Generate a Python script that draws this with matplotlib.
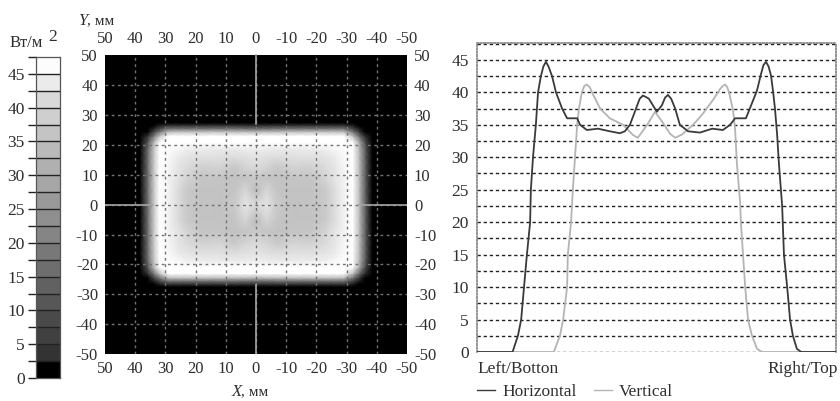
"""Heat flux map with colour scale and horizontal / vertical centre profiles."""
import numpy as np
import matplotlib
matplotlib.use('Agg')
import matplotlib.pyplot as plt
from matplotlib.colors import LinearSegmentedColormap, ListedColormap, BoundaryNorm

plt.rcParams['font.family'] = ['Liberation Serif', 'DejaVu Serif']
plt.rcParams['axes.unicode_minus'] = False

W, H = 840, 401

# Map: one quadrant, the map is mirror symmetric
map_x = [0, 3.5, 7, 12, 18, 23, 26, 29, 32, 34, 36, 38.5, 50]
map_y = [0, 5, 9, 13, 16, 18.5, 21, 23, 24.5, 25.5, 26.5, 27.5, 50]
map_values = [
    [37.0, 39.6, 35.0, 34.0, 34.2, 35.0, 38.0, 42.0, 44.7, 34.0, 15.0, 0, 0],
    [33.0, 36.5, 34.5, 34.0, 34.0, 35.0, 38.0, 42.0, 44.5, 34.0, 15.0, 0, 0],
    [35.0, 34.5, 34.0, 34.5, 34.5, 36.5, 39.5, 42.0, 44.5, 34.0, 15.0, 0, 0],
    [37.5, 36.5, 35.0, 36.5, 36.0, 37.5, 40.0, 42.5, 44.5, 34.0, 15.0, 0, 0],
    [39.5, 38.5, 38.0, 38.5, 38.5, 39.5, 41.0, 43.0, 44.5, 33.5, 14.5, 0, 0],
    [41.2, 41.0, 40.5, 40.5, 41.0, 41.5, 42.5, 43.5, 44.0, 33.0, 14.0, 0, 0],
    [43.5, 44.0, 44.0, 44.0, 44.0, 44.0, 44.0, 44.0, 43.5, 30.0, 10.0, 0, 0],
    [44.5, 44.5, 45.0, 45.0, 45.0, 45.0, 44.5, 44.0, 34.0, 17.0, 3.0, 0, 0],
    [31.0, 32.0, 32.0, 33.0, 33.0, 33.0, 33.0, 32.0, 17.0, 6.0, 0, 0, 0],
    [16.0, 16.0, 17.0, 17.0, 17.0, 17.0, 17.0, 17.0, 8.0, 2.0, 0, 0, 0],
    [4.5, 4.5, 5.0, 5.0, 5.0, 5.0, 5.0, 5.0, 2.0, 0, 0, 0, 0],
    [0, 0, 0, 0, 0, 0, 0, 0, 0, 0, 0, 0, 0],
    [0, 0, 0, 0, 0, 0, 0, 0, 0, 0, 0, 0, 0],
]
map_ticks = [50, 40, 30, 20, 10, 0, -10, -20, -30, -40, -50]

# Colour scale
scale_levels = [2.5 * i for i in range(20)]
scale_labels = [0, 5, 10, 15, 20, 25, 30, 35, 40, 45]
scale_grays = [0.0, 0.2, 0.25, 0.29, 0.34, 0.38, 0.43, 0.47, 0.52, 0.56,
               0.60, 0.65, 0.69, 0.73, 0.77, 0.81, 0.85, 0.92, 0.99]

# Profiles, position runs 0..100 from Left/Bottom to Right/Top
horizontal_pos = [0, 9.9, 11.4, 12.3, 13.1, 13.9, 14.8, 15.0, 15.6, 16.4, 17.0, 17.8, 18.5, 19.2,
                  19.9, 20.9, 22.0, 23.7, 25.1, 27.9, 28.7, 30.6, 33.7, 37.0, 39.8, 41.2, 42.6,
                  44.3, 45.3, 46.2, 47.0, 47.9, 50.1, 51.5, 52.4, 53.2, 54.1, 55.2, 56.5, 58.8,
                  62.1, 65.5, 68.5, 70.5, 71.9, 74.9, 76.0, 78.0, 79.1, 79.8, 80.5, 81.2, 81.9,
                  82.5, 83.0, 83.6, 84.1, 85.0, 85.5, 86.4, 87.2, 88.0, 89.1, 90.3, 100]
horizontal_val = [0, 0, 2.5, 5, 10, 15, 20, 25, 30, 35, 40, 42.5, 44.0, 44.7,
                  44.0, 42.5, 40, 37.5, 36, 36, 35, 34.2, 34.4, 34, 33.7, 34, 35,
                  37.5, 39.0, 39.5, 39.3, 39, 37, 38, 39.2, 39.6, 39.0, 37.5, 35, 34,
                  33.8, 34.4, 34.2, 35, 36, 36, 37.5, 40.3, 42.8, 44.2, 44.7, 44.0, 42.6,
                  40, 37.5, 33.5, 29, 22.5, 15, 10, 5, 2.5, 0.5, 0, 0]
vertical_pos = [0, 21.4, 23.1, 24.0, 25.1, 25.3, 26.2, 26.7, 27.3, 27.9, 28.4, 29.2, 29.9, 30.6,
                31.4, 32.3, 34.3, 37.0, 40.7, 43.5, 44.8, 47.4, 49.6, 51.8, 53.8, 55.2, 57.1,
                60.2, 62.9, 65.7, 67.7, 68.5, 69.1, 69.7, 70.2, 71.3, 71.9, 72.4, 73.3, 73.5, 74.1,
                74.7, 75.5, 76.6, 78.0, 79.4, 100]
vertical_val = [0, 0, 2.5, 5, 10, 15, 20, 25, 30, 35, 37.5, 40, 41.0, 41.2,
                40.8, 39.7, 37.5, 36, 35, 33.4, 33, 35, 37, 35.3, 33.6, 33, 33.5,
                35, 36.7, 38.8, 40.5, 41.0, 41.2, 40.8, 40, 37.3, 34.3, 29, 23, 20, 15,
                10, 5, 2.5, 0.5, 0, 0]
profile_ticks = [0, 5, 10, 15, 20, 25, 30, 35, 40, 45]
profile_grid = [2.5 * i for i in range(20)]

TEXT = '#2e2e2e'


def px_axes(fig, left, top, right, bottom):
    # axes from pixel box of the 840x401 canvas
    return fig.add_axes([left / W, 1 - bottom / H, (right - left) / W, (bottom - top) / H])


fig = plt.figure(figsize=(W / 100, H / 100), dpi=100)

# Colour scale
ax_scale = px_axes(fig, 36, 57, 60, 378)
cmap_scale = ListedColormap([str(g) for g in scale_grays])
norm_scale = BoundaryNorm(scale_levels, cmap_scale.N)
ax_scale.pcolormesh([0, 1], scale_levels, np.array(scale_levels[:-1])[:, None] + 1,
                    cmap=cmap_scale, norm=norm_scale)
ax_scale.set_xticks([])
ax_scale.set_ylim(0, 47.5)
ax_scale.set_yticks(scale_labels)
ax_scale.set_yticks(scale_levels[1::2], minor=True)
ax_scale.tick_params(axis='y', which='both', length=6, width=1.0, color='#222222', pad=2,
                     labelsize=12.5, labelcolor=TEXT)
for level in scale_levels[1:-1]:
    ax_scale.axhline(level, color='#222222', lw=1.0)
for spine in ax_scale.spines.values():
    spine.set_color('#555555')
    spine.set_linewidth(0.9)
fig.text(10 / W, 1 - 43 / H, 'Вт/м', fontsize=12, color=TEXT, va='center')
fig.text(48 / W, 1 - 37 / H, '2', fontsize=12.5, color=TEXT, va='center')

# Map
ax_map = px_axes(fig, 105, 54, 407, 354)
xq = np.array(map_x, dtype=float)
yq = np.array(map_y, dtype=float)
zq = np.array(map_values, dtype=float)
xs = np.concatenate([-xq[:0:-1], xq])
ys = np.concatenate([-yq[:0:-1], yq])
zz = np.concatenate([zq[:0:-1], zq], axis=0)
zz = np.concatenate([zz[:, :0:-1], zz], axis=1)
cmap_map = LinearSegmentedColormap.from_list(
    'flux', [(0, '0.0'), (2.5 / 47.5, '0.18'), (34 / 47.5, '0.76'), (37 / 47.5, '0.85'),
             (41 / 47.5, '0.92'), (44 / 47.5, '1.0'), (1, '1.0')])
ax_map.pcolormesh(xs, ys, zz, cmap=cmap_map, vmin=0, vmax=47.5, shading='gouraud')
ax_map.set_xlim(50, -50)
ax_map.set_ylim(-50, 50.5)
ax_map.set_xticks(map_ticks)
ax_map.set_yticks(map_ticks)
ax_map.tick_params(axis='both', length=0, labelsize=12, labelcolor=TEXT,
                   top=True, labeltop=True, right=True, labelright=True, pad=5)
for tick in map_ticks[1:-1]:
    ax_map.axvline(tick, color='0.45', lw=1.0, ls=(0, (2, 2.5)))
    ax_map.axhline(tick, color='0.45', lw=1.0, ls=(0, (2, 2.5)))
ax_map.plot([0, 0], [27, 50], color='0.65', lw=1.2)
ax_map.plot([0, 0], [-50, -27], color='0.65', lw=1.2)
ax_map.plot([50, 34], [0, 0], color='0.65', lw=1.2)
ax_map.plot([-34, -50], [0, 0], color='0.65', lw=1.2)
for spine in ax_map.spines.values():
    spine.set_visible(False)
fig.text(78 / W, 1 - 21 / H, 'Y', style='italic', fontsize=12, color=TEXT, va='center')
fig.text(87 / W, 1 - 21 / H, ', мм', fontsize=11, color=TEXT, va='center')
fig.text(232 / W, 1 - 392 / H, 'X', style='italic', fontsize=12, color=TEXT, va='center')
fig.text(241 / W, 1 - 392 / H, ', мм', fontsize=11, color=TEXT, va='center')

# Profiles
ax_prof = px_axes(fig, 477, 43, 836, 352)
for level in profile_grid:
    ax_prof.axhline(level, color='#222222', lw=1.0, ls=(0, (2.4, 2)), zorder=1)
ax_prof.plot(vertical_pos, vertical_val, color='#b4b4b4', lw=1.3, zorder=2, label='Vertical')
ax_prof.plot(horizontal_pos, horizontal_val, color='#3a3a3a', lw=1.3, zorder=3, label='Horizontal')
ax_prof.set_xlim(0, 100)
ax_prof.set_ylim(0, 47.6)
ax_prof.set_xticks([])
ax_prof.set_yticks(profile_ticks)
ax_prof.tick_params(axis='y', length=0, labelsize=12.5, labelcolor=TEXT, pad=6)
for side, spine in ax_prof.spines.items():
    spine.set_color('#777777')
    spine.set_linewidth(1.1)
    spine.set_linestyle((0, (1, 1.2)))
    if side == 'bottom':
        spine.set_visible(False)
fig.text(477 / W, 1 - 369 / H, 'Left/Botton', fontsize=12.5, color=TEXT, va='center')
fig.text(838 / W, 1 - 369 / H, 'Right/Top', fontsize=12.5, color=TEXT, va='center', ha='right')

handles, labels = ax_prof.get_legend_handles_labels()
legend = fig.legend(handles[::-1], labels[::-1], loc='center left', ncol=2, frameon=False,
                    bbox_to_anchor=(477 / W, 1 - 392 / H), borderaxespad=0, borderpad=0,
                    fontsize=12.5, handlelength=1.05, handletextpad=0.4, columnspacing=1.0,
                    labelcolor=TEXT)
for line in legend.get_lines():
    line.set_linewidth(1.0)

fig.savefig('out.png', dpi=100)
